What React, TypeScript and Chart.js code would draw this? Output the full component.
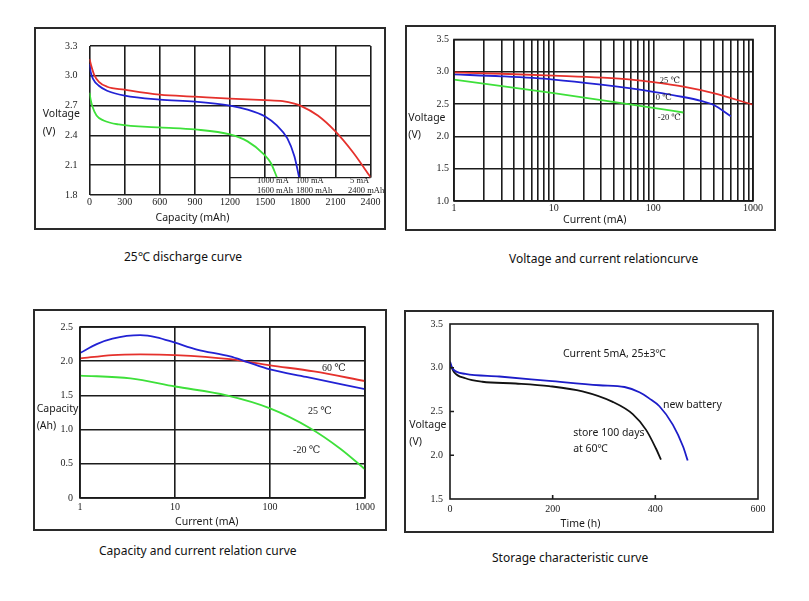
import React, { useEffect, useRef } from "react";
import { Chart, registerables } from "chart.js";
Chart.register(...registerables);

const SERIF = "'Liberation Serif', 'Times New Roman', 'DejaVu Serif', serif";
const SANS = "'Noto Sans', 'Open Sans', 'DejaVu Sans', sans-serif";

// ---------- Panel 1: 25℃ discharge curve ----------
const DIS_CAP_TICKS = [0, 300, 600, 900, 1200, 1500, 1800, 2100, 2400];
const DIS_V_TICKS = [1.8, 2.1, 2.4, 2.7, 3.0, 3.3];
const DIS_5MA_CAP = [0, 15, 40, 80, 150, 300, 600, 900, 1200, 1500, 1650, 1750, 1800, 1950, 2100, 2250, 2400];
const DIS_5MA_V = [3.17, 3.1, 3.01, 2.94, 2.89, 2.86, 2.81, 2.79, 2.77, 2.755, 2.745, 2.72, 2.7, 2.6, 2.44, 2.23, 1.98];
const DIS_100MA_CAP = [0, 10, 30, 80, 150, 300, 600, 900, 1200, 1350, 1500, 1600, 1690, 1750, 1790];
const DIS_100MA_V = [3.12, 3.04, 2.97, 2.9, 2.85, 2.8, 2.76, 2.74, 2.7, 2.66, 2.59, 2.5, 2.37, 2.19, 1.98];
const DIS_1000MA_CAP = [0, 10, 25, 60, 120, 250, 600, 900, 1200, 1350, 1490, 1550, 1600];
const DIS_1000MA_V = [2.83, 2.76, 2.69, 2.6, 2.55, 2.51, 2.48, 2.46, 2.41, 2.34, 2.21, 2.12, 1.98];
const DIS_TABLE_FROM_MAH = 1200;
const DIS_TABLE_TOP_V = 1.975;

// ---------- Panel 2: Voltage and current relation ----------
const VC_GRID_MA = [1, 2, 3, 4, 5, 6, 7, 8, 9, 10, 20, 30, 40, 50, 60, 70, 80, 90, 100, 200, 300, 400, 500, 600, 700, 800, 900, 1000];
const VC_LABEL_MA = [1, 10, 100, 1000];
const VC_V_TICKS = [1.0, 1.5, 2.0, 2.5, 3.0, 3.5];
const VC_25C_MA = [1, 3, 10, 30, 60, 100, 200, 400, 1000];
const VC_25C_V = [2.99, 2.97, 2.94, 2.91, 2.88, 2.84, 2.77, 2.67, 2.49];
const VC_0C_MA = [1, 3, 10, 30, 100, 200, 300, 400, 600];
const VC_0C_V = [2.96, 2.93, 2.88, 2.8, 2.69, 2.61, 2.55, 2.49, 2.31];
const VC_M20C_MA = [1, 10, 100, 200];
const VC_M20C_V = [2.88, 2.67, 2.44, 2.37];

// ---------- Panel 3: Capacity and current relation ----------
const CC_MA_TICKS = [1, 10, 100, 1000];
const CC_AH_TICKS = [0, 0.5, 1.0, 1.5, 2.0, 2.5];
const CC_BLUE_MA = [1, 1.5, 2.2, 4.3, 6.4, 10, 17, 38, 57, 100, 240, 1000];
const CC_BLUE_AH = [2.12, 2.25, 2.33, 2.38, 2.35, 2.27, 2.17, 2.07, 1.99, 1.88, 1.77, 1.59];
const CC_RED_MA = [1, 2.2, 4.3, 10, 38, 100, 290, 1000];
const CC_RED_AH = [2.04, 2.09, 2.1, 2.09, 2.03, 1.94, 1.85, 1.71];
const CC_GREEN_MA = [1, 3.4, 10, 35, 100, 265, 550, 1000];
const CC_GREEN_AH = [1.79, 1.75, 1.63, 1.5, 1.31, 1.02, 0.72, 0.42];

// ---------- Panel 4: Storage characteristic ----------
const ST_H_TICKS = [0, 200, 400, 600];
const ST_V_TICKS = [1.5, 2.0, 2.5, 3.0, 3.5];
const ST_INNER_H_MARKS = [200, 400];
const ST_INNER_V_MARKS = [2.0, 2.5, 3.0];
const ST_NEW_H = [0, 5, 30, 96, 193, 291, 340, 369, 388, 408, 434, 454, 463];
const ST_NEW_V = [3.07, 2.99, 2.93, 2.9, 2.85, 2.8, 2.78, 2.72, 2.65, 2.56, 2.35, 2.1, 1.94];
const ST_OLD_H = [0, 8, 30, 63, 128, 193, 258, 317, 356, 382, 401, 411];
const ST_OLD_V = [3.05, 2.95, 2.88, 2.84, 2.82, 2.79, 2.73, 2.61, 2.47, 2.29, 2.08, 1.95];

const RED = "#e5312c";
const BLUE = "#2222d4";
const GREEN = "#3ee03a";

type Rect = { l: number; t: number; r: number; b: number };
type PageText = { text: string; x: number; y: number; font: string; align: CanvasTextAlign };
type DataText = { text: string; x: number; y: number; font: string };
type Series = { xs: number[]; ys: number[]; color: string };

interface PanelDef {
  box: Rect;
  plot: Rect;
  xType: "linear" | "logarithmic";
  xMin: number; xMax: number; xTicks: number[]; xFmt: (v: number) => string; xPad: number;
  yMin: number; yMax: number; yTicks: number[]; yFmt: (v: number) => string; yPad: number;
  grid: boolean;
  frame: boolean;
  series: Series[];
  pageTexts: PageText[];
  dataTexts: DataText[];
  extra?: any[];
}

const zip = (xs: number[], ys: number[]) => xs.map((x, i) => ({ x, y: ys[i] }));
const f1 = (v: number) => v.toFixed(1);
const TITLE_FONT = `10.5px ${SANS}`;

function buildConfig(p: PanelDef): any {
  const textPlugin = {
    id: "texts",
    afterDraw(chart: any) {
      const ctx = chart.ctx;
      ctx.save();
      ctx.fillStyle = "#1a1a1a";
      ctx.textBaseline = "middle";
      for (const t of p.pageTexts) {
        ctx.font = t.font;
        ctx.textAlign = t.align;
        ctx.fillText(t.text, t.x - p.box.l, t.y - p.box.t);
      }
      ctx.textAlign = "left";
      for (const t of p.dataTexts) {
        ctx.font = t.font;
        ctx.fillText(t.text, chart.scales.x.getPixelForValue(t.x), chart.scales.y.getPixelForValue(t.y));
      }
      ctx.restore();
    },
  };
  const framePlugin = {
    id: "frame",
    afterDatasetsDraw(chart: any) {
      if (!p.frame) return;
      const { ctx, chartArea: a } = chart;
      ctx.save();
      ctx.strokeStyle = "#1a1a1a";
      ctx.lineWidth = 1.6;
      ctx.strokeRect(a.left, a.top, a.right - a.left, a.bottom - a.top);
      ctx.restore();
    },
  };
  const gridOpts = { display: p.grid, color: "#1c1c1c", lineWidth: 1.6, drawTicks: false };
  return {
    type: "line",
    data: {
      datasets: p.series.map((s) => ({
        data: zip(s.xs, s.ys),
        borderColor: s.color,
        borderWidth: 1.8,
        pointRadius: 0,
        fill: false,
        cubicInterpolationMode: "monotone",
      })),
    },
    options: {
      responsive: false,
      animation: false,
      devicePixelRatio: 1,
      events: [],
      layout: {
        padding: { left: 0, top: p.plot.t - p.box.t, right: p.box.r - p.plot.r, bottom: 0 },
      },
      plugins: { legend: { display: false }, tooltip: { enabled: false }, title: { display: false } },
      scales: {
        x: {
          type: p.xType,
          min: p.xMin,
          max: p.xMax,
          grid: gridOpts,
          border: { display: false },
          afterBuildTicks: (s: any) => { s.ticks = p.xTicks.map((v) => ({ value: v })); },
          afterFit: (s: any) => { s.height = p.box.b - p.plot.b; },
          ticks: {
            autoSkip: false,
            maxRotation: 0,
            padding: p.xPad,
            color: "#222",
            font: { family: SERIF, size: 10 },
            callback: (v: any) => p.xFmt(Number(v)),
          },
        },
        y: {
          type: "linear",
          min: p.yMin,
          max: p.yMax,
          grid: gridOpts,
          border: { display: false },
          afterBuildTicks: (s: any) => { s.ticks = p.yTicks.map((v) => ({ value: v })); },
          afterFit: (s: any) => { s.width = p.plot.l - p.box.l; },
          ticks: {
            autoSkip: false,
            padding: p.yPad,
            color: "#222",
            font: { family: SERIF, size: 10 },
            callback: (v: any) => p.yFmt(Number(v)),
          },
        },
      },
    },
    plugins: [...(p.extra || []), framePlugin, textPlugin],
  };
}

// Table drawn in lower-right corner of the discharge chart
const dischargeTable = {
  id: "dischargeTable",
  beforeDatasetsDraw(chart: any) {
    const { ctx, chartArea: a, scales } = chart;
    const x0 = scales.x.getPixelForValue(DIS_TABLE_FROM_MAH);
    const yt = scales.y.getPixelForValue(DIS_TABLE_TOP_V);
    ctx.save();
    ctx.fillStyle = "#ffffff";
    ctx.fillRect(x0 + 1, yt, a.right + 3 - x0, a.bottom - 1 - yt);
    ctx.strokeStyle = "#1c1c1c";
    ctx.lineWidth = 1.4;
    ctx.beginPath();
    ctx.moveTo(x0, yt);
    ctx.lineTo(a.right, yt);
    ctx.stroke();
    ctx.restore();
  },
};

const storageTicks = {
  id: "storageTicks",
  afterDatasetsDraw(chart: any) {
    const { ctx, chartArea: a, scales } = chart;
    ctx.save();
    ctx.strokeStyle = "#1a1a1a";
    ctx.lineWidth = 1.6;
    ctx.beginPath();
    for (const h of ST_INNER_H_MARKS) {
      const x = scales.x.getPixelForValue(h);
      ctx.moveTo(x, a.bottom);
      ctx.lineTo(x, a.bottom - 4);
    }
    for (const v of ST_INNER_V_MARKS) {
      const y = scales.y.getPixelForValue(v);
      ctx.moveTo(a.left, y);
      ctx.lineTo(a.left + 4, y);
    }
    ctx.stroke();
    ctx.restore();
  },
};

const TABLE_FONT = `8.5px ${SERIF}`;
const NOTE_SERIF_SMALL = `8.5px ${SERIF}`;
const NOTE_SERIF = `10px ${SERIF}`;
const NOTE_SANS = `10.5px ${SANS}`;

const PANELS: PanelDef[] = [
  {
    box: { l: 35, t: 28, r: 385, b: 229 },
    plot: { l: 89.5, t: 37.5, r: 370.5, b: 195 },
    xType: "linear",
    xMin: 0, xMax: 2400, xTicks: DIS_CAP_TICKS, xFmt: (v) => String(v), xPad: 1,
    yMin: 1.8, yMax: 3.3, yTicks: DIS_V_TICKS, yFmt: f1, yPad: 12,
    grid: true,
    frame: false,
    series: [
      { xs: DIS_5MA_CAP, ys: DIS_5MA_V, color: RED },
      { xs: DIS_100MA_CAP, ys: DIS_100MA_V, color: BLUE },
      { xs: DIS_1000MA_CAP, ys: DIS_1000MA_V, color: GREEN },
    ],
    pageTexts: [
      { text: "Voltage", x: 42.7, y: 114, font: TITLE_FONT, align: "left" },
      { text: "(V)", x: 42.7, y: 132, font: TITLE_FONT, align: "left" },
      { text: "Capacity (mAh)", x: 192.5, y: 218, font: TITLE_FONT, align: "center" },
    ],
    dataTexts: [
      { text: "1000 mA", x: 1430, y: 1.943, font: TABLE_FONT },
      { text: "1600 mAh", x: 1430, y: 1.841, font: TABLE_FONT },
      { text: "100 mA", x: 1764, y: 1.943, font: TABLE_FONT },
      { text: "1800 mAh", x: 1764, y: 1.841, font: TABLE_FONT },
      { text: "5 mA", x: 2225, y: 1.943, font: TABLE_FONT },
      { text: "2400 mAh", x: 2208, y: 1.841, font: TABLE_FONT },
    ],
    extra: [dischargeTable],
  },
  {
    box: { l: 406, t: 26, r: 775, b: 230 },
    plot: { l: 454, t: 39.5, r: 753, b: 201 },
    xType: "logarithmic",
    xMin: 1, xMax: 1000, xTicks: VC_GRID_MA,
    xFmt: (v) => (VC_LABEL_MA.includes(v) ? String(v) : ""), xPad: 1,
    yMin: 1.0, yMax: 3.5, yTicks: VC_V_TICKS, yFmt: f1, yPad: 5,
    grid: true,
    frame: true,
    series: [
      { xs: VC_25C_MA, ys: VC_25C_V, color: RED },
      { xs: VC_0C_MA, ys: VC_0C_V, color: BLUE },
      { xs: VC_M20C_MA, ys: VC_M20C_V, color: GREEN },
    ],
    pageTexts: [
      { text: "Voltage", x: 408.3, y: 117.7, font: TITLE_FONT, align: "left" },
      { text: "(V)", x: 408.3, y: 135, font: TITLE_FONT, align: "left" },
      { text: "Current (mA)", x: 594.7, y: 220, font: TITLE_FONT, align: "center" },
    ],
    dataTexts: [
      { text: "25 ℃", x: 116, y: 2.858, font: NOTE_SERIF_SMALL },
      { text: "0 ℃", x: 106, y: 2.594, font: NOTE_SERIF_SMALL },
      { text: "-20 ℃", x: 111, y: 2.285, font: NOTE_SERIF_SMALL },
    ],
  },
  {
    box: { l: 34, t: 310, r: 386, b: 530 },
    plot: { l: 80, t: 327, r: 365, b: 498 },
    xType: "logarithmic",
    xMin: 1, xMax: 1000, xTicks: CC_MA_TICKS, xFmt: (v) => String(v), xPad: 3,
    yMin: 0, yMax: 2.5, yTicks: CC_AH_TICKS, yFmt: (v) => (v === 0 ? "0" : v.toFixed(1)), yPad: 7,
    grid: true,
    frame: true,
    series: [
      { xs: CC_BLUE_MA, ys: CC_BLUE_AH, color: BLUE },
      { xs: CC_RED_MA, ys: CC_RED_AH, color: RED },
      { xs: CC_GREEN_MA, ys: CC_GREEN_AH, color: GREEN },
    ],
    pageTexts: [
      { text: "Capacity", x: 36.7, y: 409, font: TITLE_FONT, align: "left" },
      { text: "(Ah)", x: 36.7, y: 425.7, font: TITLE_FONT, align: "left" },
      { text: "Current (mA)", x: 206.7, y: 522.5, font: TITLE_FONT, align: "center" },
    ],
    dataTexts: [
      { text: "60 ℃", x: 352, y: 1.9, font: NOTE_SERIF },
      { text: "25 ℃", x: 251, y: 1.27, font: NOTE_SERIF },
      { text: "-20 ℃", x: 175, y: 0.69, font: NOTE_SERIF },
    ],
  },
  {
    box: { l: 405, t: 311, r: 773, b: 532 },
    plot: { l: 450, t: 321.5, r: 758, b: 499 },
    xType: "linear",
    xMin: 0, xMax: 600, xTicks: ST_H_TICKS, xFmt: (v) => String(v), xPad: 4,
    yMin: 1.5, yMax: 3.5, yTicks: ST_V_TICKS, yFmt: f1, yPad: 7,
    grid: false,
    frame: true,
    series: [
      { xs: ST_NEW_H, ys: ST_NEW_V, color: "#1c1cc8" },
      { xs: ST_OLD_H, ys: ST_OLD_V, color: "#121212" },
    ],
    pageTexts: [
      { text: "Voltage", x: 409.3, y: 425, font: TITLE_FONT, align: "left" },
      { text: "(V)", x: 409.3, y: 442, font: TITLE_FONT, align: "left" },
      { text: "Time (h)", x: 580.5, y: 524, font: TITLE_FONT, align: "center" },
    ],
    dataTexts: [
      { text: "Current 5mA, 25±3℃", x: 220, y: 3.156, font: NOTE_SANS },
      { text: "new battery", x: 415, y: 2.57, font: NOTE_SANS },
      { text: "store 100 days", x: 240, y: 2.255, font: NOTE_SANS },
      { text: "at 60℃", x: 240, y: 2.075, font: NOTE_SANS },
    ],
    extra: [storageTicks],
  },
];

const CAPTIONS = [
  { text: "25℃ discharge curve", x: 124, y: 257 },
  { text: "Voltage and current relationcurve", x: 509, y: 259 },
  { text: "Capacity and current relation curve", x: 99, y: 551 },
  { text: "Storage characteristic curve", x: 492, y: 558 },
];

function ChartPanel({ def }: { def: PanelDef }) {
  const ref = useRef<HTMLCanvasElement>(null);
  useEffect(() => {
    const chart = new Chart(ref.current as HTMLCanvasElement, buildConfig(def));
    return () => chart.destroy();
  }, [def]);
  const { l, t, r, b } = def.box;
  return (
    <>
      <div
        style={{
          position: "absolute",
          left: l - 1,
          top: t - 1,
          width: r - l + 2,
          height: b - t + 2,
          border: "2px solid #2a2a2a",
          boxSizing: "border-box",
        }}
      />
      <canvas
        ref={ref}
        width={r - l}
        height={b - t}
        style={{ position: "absolute", left: l, top: t, width: r - l, height: b - t }}
      />
    </>
  );
}

export default function App() {
  return (
    <div style={{ position: "absolute", left: 0, top: 0, width: 809, height: 601, background: "#fff", overflow: "hidden" }}>
      {PANELS.map((p, i) => (
        <ChartPanel key={i} def={p} />
      ))}
      {CAPTIONS.map((c, i) => (
        <div
          key={i}
          style={{
            position: "absolute",
            left: c.x,
            top: c.y - 9,
            height: 18,
            lineHeight: "18px",
            fontFamily: SANS,
            fontSize: 12,
            color: "#111",
            whiteSpace: "nowrap",
          }}
        >
          {c.text}
        </div>
      ))}
    </div>
  );
}
